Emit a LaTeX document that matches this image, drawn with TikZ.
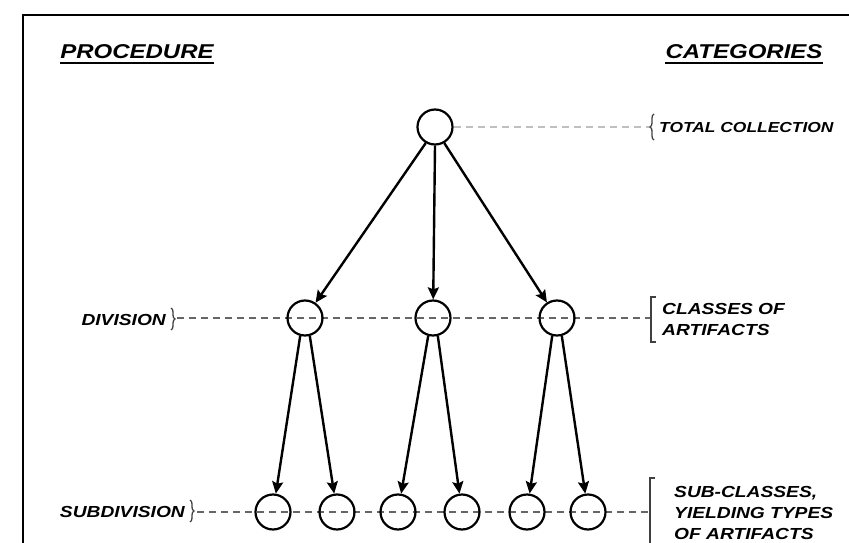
\documentclass[tikz,border=0pt]{standalone}
\usepackage{fontspec}
\usepackage{tikz}
\usetikzlibrary{arrows.meta,decorations.pathreplacing}

\newfontfamily\hand[FakeStretch=1.2]{Liberation Sans}

\tikzset{
  lab/.style={draw=none, inner sep=0pt, font=\hand\bfseries\itshape\fontsize{16}{21}\selectfont, align=left},
  head/.style={draw=none, inner sep=0pt, font=\hand\bfseries\itshape\fontsize{20}{24}\selectfont},
  ring/.style={circle, draw, line width=2.2pt, minimum size=35pt, inner sep=0pt},
  link/.style={line width=2.4pt, -{Stealth[length=12pt,width=11pt,inset=2pt]}},
  dashline/.style={black!60, line width=1.5pt, dash pattern=on 7pt off 5pt},
  greyline/.style={black!25, line width=1.5pt, dash pattern=on 7pt off 5pt},
  bracket/.style={black!75, line width=1.3pt},
  curly/.style={black!75, line width=1.3pt, decorate, decoration={brace, amplitude=4pt}}
}

\begin{document}
\begin{tikzpicture}[x=1pt, y=-1pt]
             \useasboundingbox (0,0) rectangle (849,543);

             % frame
             \draw[line width=1.4pt] (23,543) -- (23,15) -- (849,15);

             % headings
             \node[head] (proc) at (137,52) {PROCEDURE};
             \node[head] (cat) at (744,52) {CATEGORIES};
             \draw[line width=1.8pt] ([yshift=-4pt]proc.south west) -- ([yshift=-4pt]proc.south east);
             \draw[line width=1.8pt] ([yshift=-4pt]cat.south west) -- ([yshift=-4pt]cat.south east);

             % dashed levels
             \coordinate (totbr) at (650,127);
             \coordinate (divtip) at (177,318);
             \coordinate (divbr) at (651,318);
             \coordinate (subtip) at (197,512);
             \coordinate (subbr) at (650,512);
             \draw[dashline] (divtip) -- (divbr);
             \draw[dashline] (subtip) -- (subbr);

             % circles
             \node[ring] (total) at (435,127) {};
             \node[ring] (divL) at (305,318) {};
             \node[ring] (divM) at (433,318) {};
             \node[ring] (divR) at (557,318) {};
             \node[ring] (subA) at (273,512) {};
             \node[ring] (subB) at (337,512) {};
             \node[ring] (subC) at (398,512) {};
             \node[ring] (subD) at (462,512) {};
             \node[ring] (subE) at (527,512) {};
             \node[ring] (subF) at (588,512) {};

             \draw[greyline] (total.east) -- (totbr);

             % arrows
             \draw[link] (total.-120) -- (divL);
             \draw[link] (total.-90) -- (divM);
             \draw[link] (total.-60) -- (divR);
             \draw[link] (divL.-105) -- (subA);
             \draw[link] (divL.-75) -- (subB);
             \draw[link] (divM.-105) -- (subC);
             \draw[link] (divM.-75) -- (subD);
             \draw[link] (divR.-105) -- (subE);
             \draw[link] (divR.-75) -- (subF);

             % left labels
             \node[lab, anchor=east] (divtxt) at (166,320) {DIVISION};
             \node[lab, anchor=east] (subtxt) at (185,512) {SUBDIVISION};
             \draw[curly] (171,308) -- (171,330);
             \draw[curly] (190,500) -- (190,522);

             % right labels
             \draw[curly] (654,140) -- (654,114);
             \node[lab, anchor=west, font=\hand\bfseries\itshape\fontsize{14.5}{21}\selectfont] (tottxt) at (659,128) {TOTAL COLLECTION};
             \draw[bracket] (656,297) -- (651,297) -- (651,342) -- (656,342);
             \node[lab, anchor=west] (clstxt) at (662,319) {CLASSES OF\\ARTIFACTS};
             \draw[bracket] (655,478) -- (650,478) -- (650,545);
             \node[lab, anchor=west] (subcls) at (674,513) {SUB-CLASSES,\\YIELDING TYPES\\OF ARTIFACTS};
\end{tikzpicture}
\end{document}
